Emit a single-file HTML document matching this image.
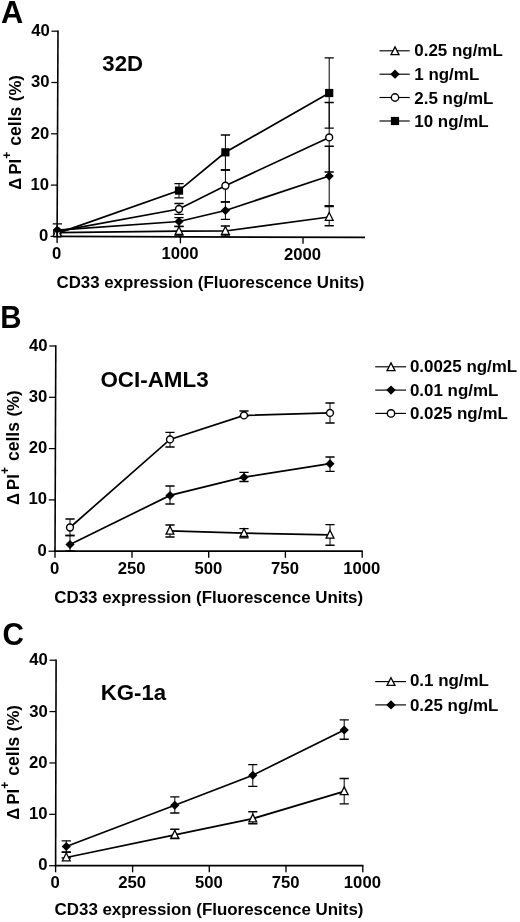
<!DOCTYPE html>
<html><head><meta charset="utf-8"><title>Figure</title>
<style>
html,body{margin:0;padding:0;background:#fff;}
body{width:520px;height:922px;overflow:hidden;}
svg{display:block;position:absolute;left:0;top:0;will-change:transform;filter:grayscale(1);}
svg text{font-family:"Liberation Sans",sans-serif;font-weight:bold;fill:#000;}
</style></head><body>
<svg width="520" height="922" viewBox="0 0 520 922">
<rect x="0" y="0" width="520" height="922" fill="#fff"/>
<text x="1.1" y="22.65" font-size="30.8" text-anchor="start" >A</text>
<path d="M58.00 30.50L57.10 237.10" stroke="#000" stroke-width="1.6" fill="none"/>
<path d="M56.30 236.40L365.00 237.40" stroke="#000" stroke-width="1.7" fill="none"/>
<path d="M50.60 236.40H57.10" stroke="#000" stroke-width="1.25"/>
<text x="48.4" y="241.3" font-size="16.7" text-anchor="end" >0</text>
<path d="M50.83 185.10H57.33" stroke="#000" stroke-width="1.25"/>
<text x="49.12" y="190.0" font-size="16.7" text-anchor="end" >10</text>
<path d="M51.05 133.80H57.55" stroke="#000" stroke-width="1.25"/>
<text x="49.35" y="138.7" font-size="16.7" text-anchor="end" >20</text>
<path d="M51.27 82.50H57.77" stroke="#000" stroke-width="1.25"/>
<text x="49.58" y="87.4" font-size="16.7" text-anchor="end" >30</text>
<path d="M51.50 31.20H58.00" stroke="#000" stroke-width="1.25"/>
<text x="49.8" y="36.1" font-size="16.7" text-anchor="end" >40</text>
<path d="M57.10 236.40V243.00" stroke="#000" stroke-width="1.35"/>
<text x="56.7" y="259.0" font-size="16.7" text-anchor="middle" >0</text>
<path d="M180.40 236.80V243.40" stroke="#000" stroke-width="1.35"/>
<text x="180.0" y="259.4" font-size="16.7" text-anchor="middle" >1000</text>
<path d="M303.00 237.20V243.80" stroke="#000" stroke-width="1.35"/>
<text x="302.6" y="259.8" font-size="16.7" text-anchor="middle" >2000</text>
<g transform="translate(20.8 0) rotate(-90)"><text x="-189.80" y="0" font-size="16.7" font-weight="normal">Δ</text><text x="-174.60" y="0" font-size="16.7" font-weight="bold">PI</text><text x="-158.80" y="-9.5" font-size="12" font-weight="bold">+</text><text x="-145.80" y="0" font-size="17.6" font-weight="bold">cells</text><text x="-101.15" y="0" font-size="16.7" font-weight="bold">(%)</text></g>
<text x="102.3" y="70.6" font-size="22.2" text-anchor="start" >32D</text>
<text x="56.5" y="287.8" font-size="16.85" text-anchor="start" >CD33 expression (Fluorescence Units)</text>
<path d="M179.00 226.50V236.00" stroke="#000" stroke-width="1.0" fill="none"/><path d="M174.40 226.50H183.60M174.40 236.00H183.60" stroke="#000" stroke-width="1.35" fill="none"/>
<path d="M225.40 226.00V236.00" stroke="#000" stroke-width="1.0" fill="none"/><path d="M220.80 226.00H230.00M220.80 236.00H230.00" stroke="#000" stroke-width="1.35" fill="none"/>
<path d="M329.20 206.60V225.70" stroke="#000" stroke-width="1.0" fill="none"/><path d="M324.60 206.60H333.80M324.60 225.70H333.80" stroke="#000" stroke-width="1.35" fill="none"/>
<path d="M57.40 232.60L179.00 231.20L225.40 231.00L329.20 217.00" stroke="#000" stroke-width="1.7" fill="none"/>
<path d="M179.00 226.70L182.90 234.50L175.10 234.50Z" fill="#fff" stroke="#000" stroke-width="1.3" stroke-linejoin="miter"/>
<path d="M225.40 226.50L229.30 234.30L221.50 234.30Z" fill="#fff" stroke="#000" stroke-width="1.3" stroke-linejoin="miter"/>
<path d="M329.20 212.50L333.10 220.30L325.30 220.30Z" fill="#fff" stroke="#000" stroke-width="1.3" stroke-linejoin="miter"/>
<path d="M179.00 217.60V226.40" stroke="#000" stroke-width="1.0" fill="none"/><path d="M174.40 217.60H183.60M174.40 226.40H183.60" stroke="#000" stroke-width="1.35" fill="none"/>
<path d="M225.40 201.80V219.40" stroke="#000" stroke-width="1.0" fill="none"/><path d="M220.80 201.80H230.00M220.80 219.40H230.00" stroke="#000" stroke-width="1.35" fill="none"/>
<path d="M329.20 146.20V205.70" stroke="#000" stroke-width="1.0" fill="none"/><path d="M324.60 146.20H333.80M324.60 205.70H333.80" stroke="#000" stroke-width="1.35" fill="none"/>
<path d="M57.40 230.10L179.00 221.50L225.40 210.50L329.20 176.00" stroke="#000" stroke-width="1.7" fill="none"/>
<path d="M179.00 217.00L183.60 221.50L179.00 226.00L174.40 221.50Z" fill="#000"/>
<path d="M225.40 206.00L230.00 210.50L225.40 215.00L220.80 210.50Z" fill="#000"/>
<path d="M329.20 171.50L333.80 176.00L329.20 180.50L324.60 176.00Z" fill="#000"/>
<path d="M179.00 203.50V214.30" stroke="#000" stroke-width="1.0" fill="none"/><path d="M174.40 203.50H183.60M174.40 214.30H183.60" stroke="#000" stroke-width="1.35" fill="none"/>
<path d="M225.40 170.00V202.00" stroke="#000" stroke-width="1.0" fill="none"/><path d="M220.80 170.00H230.00M220.80 202.00H230.00" stroke="#000" stroke-width="1.35" fill="none"/>
<path d="M329.20 102.50V172.00" stroke="#000" stroke-width="1.0" fill="none"/><path d="M324.60 102.50H333.80M324.60 172.00H333.80" stroke="#000" stroke-width="1.35" fill="none"/>
<path d="M57.40 231.40L179.00 209.00L225.40 185.70L329.20 137.40" stroke="#000" stroke-width="1.7" fill="none"/>
<circle cx="179.00" cy="209.00" r="3.45" fill="#fff" stroke="#000" stroke-width="1.4"/>
<circle cx="225.40" cy="185.70" r="3.45" fill="#fff" stroke="#000" stroke-width="1.4"/>
<circle cx="329.20" cy="137.40" r="3.45" fill="#fff" stroke="#000" stroke-width="1.4"/>
<path d="M57.40 223.80V236.00" stroke="#000" stroke-width="1.0" fill="none"/><path d="M52.80 223.80H62.00M52.80 236.00H62.00" stroke="#000" stroke-width="1.35" fill="none"/>
<path d="M179.00 183.60V197.80" stroke="#000" stroke-width="1.0" fill="none"/><path d="M174.40 183.60H183.60M174.40 197.80H183.60" stroke="#000" stroke-width="1.35" fill="none"/>
<path d="M225.40 135.00V170.00" stroke="#000" stroke-width="1.0" fill="none"/><path d="M220.80 135.00H230.00M220.80 170.00H230.00" stroke="#000" stroke-width="1.35" fill="none"/>
<path d="M329.20 57.90V128.10" stroke="#000" stroke-width="1.0" fill="none"/><path d="M324.60 57.90H333.80M324.60 128.10H333.80" stroke="#000" stroke-width="1.35" fill="none"/>
<path d="M57.40 233.40L179.00 190.60L225.40 152.30L329.20 93.00" stroke="#000" stroke-width="1.7" fill="none"/>
<rect x="174.90" y="186.50" width="8.2" height="8.2" fill="#000"/>
<rect x="221.30" y="148.20" width="8.2" height="8.2" fill="#000"/>
<rect x="325.10" y="88.90" width="8.2" height="8.2" fill="#000"/>
<rect x="53.20" y="229.30" width="8.2" height="8.2" fill="#000"/>
<path d="M57.30 228.30L61.40 236.30L53.20 236.30Z" fill="#fff" stroke="#000" stroke-width="1.3" stroke-linejoin="miter"/>
<circle cx="57.30" cy="231.20" r="3.45" fill="#fff" stroke="#000" stroke-width="1.4"/>
<path d="M57.30 225.70L61.70 230.10L57.30 234.50L52.90 230.10Z" fill="#000"/>
<path d="M55.5 232.4H56.3V235.6H54.4ZM58.0 232.4H58.8L59.9 235.6H58.0Z" fill="#fff"/>
<path d="M57.15 226V237" stroke="#000" stroke-width="1.6"/>
<path d="M379.5 50.8H409.7" stroke="#000" stroke-width="1.15"/>
<path d="M395.00 46.90L399.00 54.60L391.00 54.60Z" fill="#fff" stroke="#000" stroke-width="1.3" stroke-linejoin="miter"/>
<text x="414.3" y="55.8" font-size="16.95" text-anchor="start" >0.25 ng/mL</text>
<path d="M379.5 74.2H409.7" stroke="#000" stroke-width="1.15"/>
<path d="M395.00 69.60L399.75 74.20L395.00 78.80L390.25 74.20Z" fill="#000"/>
<text x="414.3" y="80.2" font-size="16.95" text-anchor="start" >1 ng/mL</text>
<path d="M379.5 97.5H409.7" stroke="#000" stroke-width="1.15"/>
<circle cx="395.00" cy="97.50" r="3.7" fill="#fff" stroke="#000" stroke-width="1.4"/>
<text x="414.3" y="103.5" font-size="16.95" text-anchor="start" >2.5 ng/mL</text>
<path d="M379.5 121.0H409.7" stroke="#000" stroke-width="1.15"/>
<rect x="390.90" y="116.90" width="8.2" height="8.2" fill="#000"/>
<text x="414.3" y="126.7" font-size="16.95" text-anchor="start" >10 ng/mL</text>
<text transform="translate(0.35 328.45) scale(0.95 1)" font-size="31">B</text>
<path d="M55.80 345.30L55.00 551.90" stroke="#000" stroke-width="1.6" fill="none"/>
<path d="M54.20 551.20L362.80 551.20" stroke="#000" stroke-width="1.7" fill="none"/>
<path d="M48.50 551.20H55.00" stroke="#000" stroke-width="1.25"/>
<text x="46.9" y="555.7" font-size="16.7" text-anchor="end" >0</text>
<path d="M48.70 499.90H55.20" stroke="#000" stroke-width="1.25"/>
<text x="47.0" y="504.4" font-size="16.7" text-anchor="end" >10</text>
<path d="M48.90 448.60H55.40" stroke="#000" stroke-width="1.25"/>
<text x="47.2" y="453.1" font-size="16.7" text-anchor="end" >20</text>
<path d="M49.10 397.30H55.60" stroke="#000" stroke-width="1.25"/>
<text x="47.4" y="401.8" font-size="16.7" text-anchor="end" >30</text>
<path d="M49.30 346.00H55.80" stroke="#000" stroke-width="1.25"/>
<text x="47.6" y="350.5" font-size="16.7" text-anchor="end" >40</text>
<path d="M55.00 551.20V557.80" stroke="#000" stroke-width="1.35"/>
<text x="54.6" y="573.8" font-size="16.7" text-anchor="middle" >0</text>
<path d="M132.00 551.20V557.80" stroke="#000" stroke-width="1.35"/>
<text x="131.6" y="573.8" font-size="16.7" text-anchor="middle" >250</text>
<path d="M208.70 551.20V557.80" stroke="#000" stroke-width="1.35"/>
<text x="208.3" y="573.8" font-size="16.7" text-anchor="middle" >500</text>
<path d="M285.40 551.20V557.80" stroke="#000" stroke-width="1.35"/>
<text x="285.0" y="573.8" font-size="16.7" text-anchor="middle" >750</text>
<path d="M362.20 551.20V557.80" stroke="#000" stroke-width="1.35"/>
<text x="361.8" y="573.8" font-size="16.7" text-anchor="middle" >1000</text>
<g transform="translate(18.8 0) rotate(-90)"><text x="-505.10" y="0" font-size="16.7" font-weight="normal">Δ</text><text x="-489.90" y="0" font-size="16.7" font-weight="bold">PI</text><text x="-474.10" y="-9.5" font-size="12" font-weight="bold">+</text><text x="-461.10" y="0" font-size="17.6" font-weight="bold">cells</text><text x="-416.45" y="0" font-size="16.7" font-weight="bold">(%)</text></g>
<text x="100.4" y="387.0" font-size="22.4" text-anchor="start" >OCI-AML3</text>
<text x="54.3" y="602.9" font-size="16.9" text-anchor="start" >CD33 expression (Fluorescence Units)</text>
<path d="M170.00 525.00V537.00" stroke="#000" stroke-width="1.0" fill="none"/><path d="M165.40 525.00H174.60M165.40 537.00H174.60" stroke="#000" stroke-width="1.35" fill="none"/>
<path d="M244.00 528.60V537.80" stroke="#000" stroke-width="1.0" fill="none"/><path d="M239.40 528.60H248.60M239.40 537.80H248.60" stroke="#000" stroke-width="1.35" fill="none"/>
<path d="M330.00 524.60V545.20" stroke="#000" stroke-width="1.0" fill="none"/><path d="M325.40 524.60H334.60M325.40 545.20H334.60" stroke="#000" stroke-width="1.35" fill="none"/>
<path d="M170.00 530.80L244.00 533.20L330.00 534.80" stroke="#000" stroke-width="1.7" fill="none"/>
<path d="M170.00 526.30L173.90 534.10L166.10 534.10Z" fill="#fff" stroke="#000" stroke-width="1.3" stroke-linejoin="miter"/>
<path d="M244.00 528.70L247.90 536.50L240.10 536.50Z" fill="#fff" stroke="#000" stroke-width="1.3" stroke-linejoin="miter"/>
<path d="M330.00 530.30L333.90 538.10L326.10 538.10Z" fill="#fff" stroke="#000" stroke-width="1.3" stroke-linejoin="miter"/>
<path d="M70.00 535.50V550.80" stroke="#000" stroke-width="1.0" fill="none"/><path d="M65.40 535.50H74.60M65.40 550.80H74.60" stroke="#000" stroke-width="1.35" fill="none"/>
<path d="M170.00 486.00V504.00" stroke="#000" stroke-width="1.0" fill="none"/><path d="M165.40 486.00H174.60M165.40 504.00H174.60" stroke="#000" stroke-width="1.35" fill="none"/>
<path d="M244.00 472.30V481.50" stroke="#000" stroke-width="1.0" fill="none"/><path d="M239.40 472.30H248.60M239.40 481.50H248.60" stroke="#000" stroke-width="1.35" fill="none"/>
<path d="M330.00 457.00V471.40" stroke="#000" stroke-width="1.0" fill="none"/><path d="M325.40 457.00H334.60M325.40 471.40H334.60" stroke="#000" stroke-width="1.35" fill="none"/>
<path d="M70.00 544.50L170.00 495.40L244.00 477.20L330.00 463.70" stroke="#000" stroke-width="1.7" fill="none"/>
<path d="M70.00 540.00L74.60 544.50L70.00 549.00L65.40 544.50Z" fill="#000"/>
<path d="M170.00 490.90L174.60 495.40L170.00 499.90L165.40 495.40Z" fill="#000"/>
<path d="M244.00 472.70L248.60 477.20L244.00 481.70L239.40 477.20Z" fill="#000"/>
<path d="M330.00 459.20L334.60 463.70L330.00 468.20L325.40 463.70Z" fill="#000"/>
<path d="M70.00 519.00V535.50" stroke="#000" stroke-width="1.0" fill="none"/><path d="M65.40 519.00H74.60M65.40 535.50H74.60" stroke="#000" stroke-width="1.35" fill="none"/>
<path d="M170.00 432.30V447.00" stroke="#000" stroke-width="1.0" fill="none"/><path d="M165.40 432.30H174.60M165.40 447.00H174.60" stroke="#000" stroke-width="1.35" fill="none"/>
<path d="M244.00 411.00V416.00" stroke="#000" stroke-width="1.0" fill="none"/><path d="M239.40 411.00H248.60M239.40 416.00H248.60" stroke="#000" stroke-width="1.35" fill="none"/>
<path d="M330.00 403.00V423.00" stroke="#000" stroke-width="1.0" fill="none"/><path d="M325.40 403.00H334.60M325.40 423.00H334.60" stroke="#000" stroke-width="1.35" fill="none"/>
<path d="M70.00 527.50L170.00 439.40L244.00 415.40L330.00 412.90" stroke="#000" stroke-width="1.7" fill="none"/>
<circle cx="70.00" cy="527.50" r="3.45" fill="#fff" stroke="#000" stroke-width="1.4"/>
<circle cx="170.00" cy="439.40" r="3.45" fill="#fff" stroke="#000" stroke-width="1.4"/>
<circle cx="244.00" cy="415.40" r="3.45" fill="#fff" stroke="#000" stroke-width="1.4"/>
<circle cx="330.00" cy="412.90" r="3.45" fill="#fff" stroke="#000" stroke-width="1.4"/>
<path d="M375.2 366.8H406.0" stroke="#000" stroke-width="1.15"/>
<path d="M391.00 362.90L395.00 370.60L387.00 370.60Z" fill="#fff" stroke="#000" stroke-width="1.3" stroke-linejoin="miter"/>
<text x="409.9" y="372.2" font-size="16.95" text-anchor="start" >0.0025 ng/mL</text>
<path d="M375.2 390.1H406.0" stroke="#000" stroke-width="1.15"/>
<path d="M391.00 385.50L395.75 390.10L391.00 394.70L386.25 390.10Z" fill="#000"/>
<text x="409.9" y="395.6" font-size="16.95" text-anchor="start" >0.01 ng/mL</text>
<path d="M375.2 413.4H406.0" stroke="#000" stroke-width="1.15"/>
<circle cx="391.00" cy="413.40" r="3.7" fill="#fff" stroke="#000" stroke-width="1.4"/>
<text x="409.9" y="418.9" font-size="16.95" text-anchor="start" >0.025 ng/mL</text>
<text transform="translate(2.6 644.95) scale(0.94 1)" font-size="31.6">C</text>
<path d="M56.10 659.50L55.60 866.40" stroke="#000" stroke-width="1.6" fill="none"/>
<path d="M54.80 865.70L363.40 865.70" stroke="#000" stroke-width="1.7" fill="none"/>
<path d="M49.10 865.70H55.60" stroke="#000" stroke-width="1.25"/>
<text x="47.5" y="870.1" font-size="16.7" text-anchor="end" >0</text>
<path d="M49.23 814.33H55.73" stroke="#000" stroke-width="1.25"/>
<text x="47.53" y="819.33" font-size="16.7" text-anchor="end" >10</text>
<path d="M49.35 762.95H55.85" stroke="#000" stroke-width="1.25"/>
<text x="47.65" y="767.95" font-size="16.7" text-anchor="end" >20</text>
<path d="M49.48 711.58H55.98" stroke="#000" stroke-width="1.25"/>
<text x="47.78" y="716.58" font-size="16.7" text-anchor="end" >30</text>
<path d="M49.60 660.20H56.10" stroke="#000" stroke-width="1.25"/>
<text x="47.9" y="665.2" font-size="16.7" text-anchor="end" >40</text>
<path d="M55.60 865.70V872.30" stroke="#000" stroke-width="1.35"/>
<text x="55.2" y="888.3" font-size="16.7" text-anchor="middle" >0</text>
<path d="M132.60 865.70V872.30" stroke="#000" stroke-width="1.35"/>
<text x="132.2" y="888.3" font-size="16.7" text-anchor="middle" >250</text>
<path d="M209.30 865.70V872.30" stroke="#000" stroke-width="1.35"/>
<text x="208.9" y="888.3" font-size="16.7" text-anchor="middle" >500</text>
<path d="M286.00 865.70V872.30" stroke="#000" stroke-width="1.35"/>
<text x="285.6" y="888.3" font-size="16.7" text-anchor="middle" >750</text>
<path d="M362.80 865.70V872.30" stroke="#000" stroke-width="1.35"/>
<text x="362.4" y="888.3" font-size="16.7" text-anchor="middle" >1000</text>
<g transform="translate(18.8 0) rotate(-90)"><text x="-819.80" y="0" font-size="16.7" font-weight="normal">Δ</text><text x="-804.60" y="0" font-size="16.7" font-weight="bold">PI</text><text x="-788.80" y="-9.5" font-size="12" font-weight="bold">+</text><text x="-775.80" y="0" font-size="17.6" font-weight="bold">cells</text><text x="-731.15" y="0" font-size="16.7" font-weight="bold">(%)</text></g>
<text x="100.8" y="700.4" font-size="22.2" text-anchor="start" >KG-1a</text>
<text x="54.6" y="915.4" font-size="16.9" text-anchor="start" >CD33 expression (Fluorescence Units)</text>
<path d="M66.30 852.40V858.00" stroke="#000" stroke-width="1.0" fill="none"/><path d="M61.70 852.40H70.90M61.70 858.00H70.90" stroke="#000" stroke-width="1.35" fill="none"/>
<path d="M174.80 829.20V838.50" stroke="#000" stroke-width="1.0" fill="none"/><path d="M170.20 829.20H179.40M170.20 838.50H179.40" stroke="#000" stroke-width="1.35" fill="none"/>
<path d="M252.80 811.70V823.70" stroke="#000" stroke-width="1.0" fill="none"/><path d="M248.20 811.70H257.40M248.20 823.70H257.40" stroke="#000" stroke-width="1.35" fill="none"/>
<path d="M344.20 778.50V803.80" stroke="#000" stroke-width="1.0" fill="none"/><path d="M339.60 778.50H348.80M339.60 803.80H348.80" stroke="#000" stroke-width="1.35" fill="none"/>
<path d="M66.30 857.50L174.80 834.80L252.80 818.60L344.20 791.40" stroke="#000" stroke-width="1.7" fill="none"/>
<path d="M66.30 853.00L70.20 860.80L62.40 860.80Z" fill="#fff" stroke="#000" stroke-width="1.3" stroke-linejoin="miter"/>
<path d="M174.80 830.30L178.70 838.10L170.90 838.10Z" fill="#fff" stroke="#000" stroke-width="1.3" stroke-linejoin="miter"/>
<path d="M252.80 814.10L256.70 821.90L248.90 821.90Z" fill="#fff" stroke="#000" stroke-width="1.3" stroke-linejoin="miter"/>
<path d="M344.20 786.90L348.10 794.70L340.30 794.70Z" fill="#fff" stroke="#000" stroke-width="1.3" stroke-linejoin="miter"/>
<path d="M66.30 840.80V852.00" stroke="#000" stroke-width="1.0" fill="none"/><path d="M61.70 840.80H70.90M61.70 852.00H70.90" stroke="#000" stroke-width="1.35" fill="none"/>
<path d="M174.80 796.90V813.00" stroke="#000" stroke-width="1.0" fill="none"/><path d="M170.20 796.90H179.40M170.20 813.00H179.40" stroke="#000" stroke-width="1.35" fill="none"/>
<path d="M252.80 764.60V786.30" stroke="#000" stroke-width="1.0" fill="none"/><path d="M248.20 764.60H257.40M248.20 786.30H257.40" stroke="#000" stroke-width="1.35" fill="none"/>
<path d="M344.20 719.80V739.20" stroke="#000" stroke-width="1.0" fill="none"/><path d="M339.60 719.80H348.80M339.60 739.20H348.80" stroke="#000" stroke-width="1.35" fill="none"/>
<path d="M66.30 846.50L174.80 805.20L252.80 775.20L344.20 730.00" stroke="#000" stroke-width="1.7" fill="none"/>
<path d="M66.30 842.00L70.90 846.50L66.30 851.00L61.70 846.50Z" fill="#000"/>
<path d="M174.80 800.70L179.40 805.20L174.80 809.70L170.20 805.20Z" fill="#000"/>
<path d="M252.80 770.70L257.40 775.20L252.80 779.70L248.20 775.20Z" fill="#000"/>
<path d="M344.20 725.50L348.80 730.00L344.20 734.50L339.60 730.00Z" fill="#000"/>
<path d="M375.2 681.6H406.0" stroke="#000" stroke-width="1.15"/>
<path d="M391.00 677.70L395.00 685.40L387.00 685.40Z" fill="#fff" stroke="#000" stroke-width="1.3" stroke-linejoin="miter"/>
<text x="409.9" y="686.4" font-size="16.95" text-anchor="start" >0.1 ng/mL</text>
<path d="M375.2 704.9H406.0" stroke="#000" stroke-width="1.15"/>
<path d="M391.00 700.30L395.75 704.90L391.00 709.50L386.25 704.90Z" fill="#000"/>
<text x="409.9" y="710.6" font-size="16.95" text-anchor="start" >0.25 ng/mL</text>
</svg>
</body></html>
